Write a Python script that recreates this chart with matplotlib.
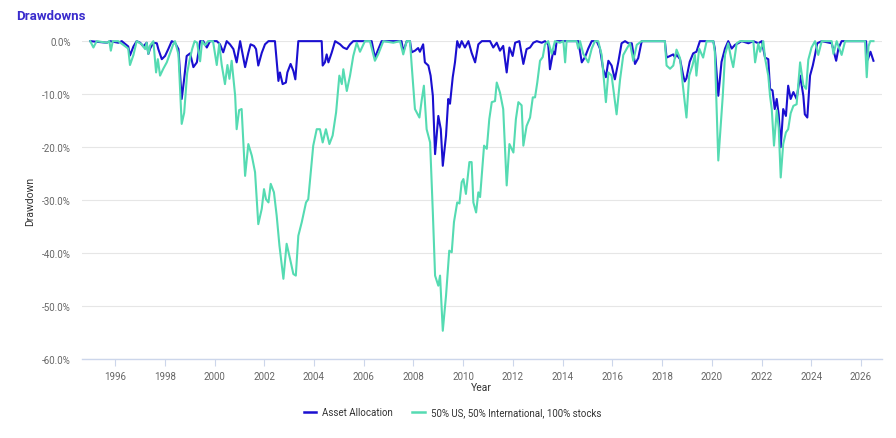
import matplotlib
matplotlib.use("Agg")
import matplotlib.pyplot as plt
from matplotlib.ticker import FuncFormatter
from matplotlib.lines import Line2D

plt.rcParams['font.family'] = ['Roboto', 'DejaVu Sans']

series_names = ["Asset Allocation", "50% US, 50% International, 100% stocks"]

aa_years = [1995.00, 1995.67, 1995.80, 1996.13, 1996.27, 1996.53, 1996.60, 1996.74, 1996.87, 1997.01,
            1997.14, 1997.27, 1997.34, 1997.41, 1997.54, 1997.68, 1997.74, 1997.88, 1998.01, 1998.14,
            1998.28, 1998.41, 1998.55, 1998.68, 1998.77, 1998.88, 1999.02, 1999.15, 1999.29, 1999.42,
            1999.55, 1999.69, 1999.82, 2000.09, 2000.22, 2000.35, 2000.49, 2000.62, 2000.76, 2000.89,
            2001.03, 2001.23, 2001.36, 2001.45, 2001.59, 2001.67, 2001.76, 2001.90, 2002.03, 2002.17,
            2002.43, 2002.57, 2002.63, 2002.74, 2002.87, 2002.93, 2003.06, 2003.17, 2003.25, 2003.37,
            2004.31, 2004.35, 2004.44, 2004.51, 2004.58, 2004.71, 2004.85, 2005.05, 2005.18, 2005.32,
            2005.45, 2005.58, 2006.32, 2006.45, 2006.59, 2006.72, 2007.52, 2007.59, 2007.73, 2007.86,
            2007.93, 2008.06, 2008.19, 2008.26, 2008.39, 2008.46, 2008.60, 2008.69, 2008.78, 2008.87,
            2009.00, 2009.10, 2009.18, 2009.31, 2009.40, 2009.47, 2009.58, 2009.67, 2009.76, 2009.85,
            2009.94, 2010.07, 2010.21, 2010.34, 2010.48, 2010.61, 2010.75, 2011.08, 2011.21, 2011.35,
            2011.48, 2011.61, 2011.75, 2011.86, 2011.99, 2012.09, 2012.26, 2012.42, 2012.55, 2012.69,
            2012.82, 2012.96, 2013.16, 2013.29, 2013.42, 2013.49, 2013.62, 2013.69, 2013.76, 2014.63,
            2014.70, 2014.77, 2014.90, 2015.03, 2015.17, 2015.37, 2015.50, 2015.63, 2015.74, 2015.84,
            2015.97, 2016.10, 2016.24, 2016.37, 2016.51, 2016.64, 2016.78, 2016.91, 2017.04, 2017.18,
            2018.11, 2018.18, 2018.32, 2018.45, 2018.52, 2018.58, 2018.72, 2018.85, 2018.91, 2018.98,
            2019.11, 2019.25, 2019.38, 2019.52, 2020.06, 2020.12, 2020.26, 2020.39, 2020.53, 2020.66,
            2020.80, 2020.93, 2021.06, 2021.20, 2021.47, 2021.67, 2021.87, 2022.01, 2022.14, 2022.27,
            2022.34, 2022.44, 2022.53, 2022.61, 2022.69, 2022.77, 2022.87, 2022.98, 2023.07, 2023.17,
            2023.28, 2023.41, 2023.55, 2023.68, 2023.74, 2023.84, 2023.95, 2024.06, 2024.15, 2024.24,
            2024.42, 2024.82, 2025.00, 2025.09, 2025.22, 2026.20, 2026.27, 2026.38, 2026.50]
aa_values = [0.0, -0.3, 0.0, -0.3, 0.0, -1.0, -2.7, -1.0, 0.0, -0.3,
             -1.0, -0.3, -2.4, -1.4, -0.3, -0.4, -1.5, -3.4, -2.8, -1.5,
             0.0, -0.3, -1.5, -10.9, -7.5, -2.8, -2.3, -4.9, -4.0, 0.0,
             0.0, -1.2, 0.0, 0.0, -0.6, -2.1, 0.0, -0.6, -1.5, -4.0,
             0.0, -4.9, -2.2, -0.6, -0.9, -1.5, -4.6, -2.2, -0.6, 0.0,
             0.0, -7.5, -5.9, -8.1, -7.8, -5.9, -4.3, -5.6, -7.2, 0.0,
             0.0, -4.6, -4.0, -2.5, -4.0, -2.2, 0.0, -0.6, -1.2, -1.5,
             -0.6, 0.0, 0.0, -3.1, -1.5, 0.0, 0.0, -2.0, 0.0, 0.0,
             -2.1, -1.8, -1.3, -2.0, -0.6, -4.0, -4.6, -6.5, -10.3, -21.3,
             -14.1, -16.6, -23.5, -17.8, -10.9, -11.8, -6.8, -4.0, 0.0, -1.2,
             0.0, -1.2, 0.0, -2.2, -4.0, -0.6, 0.0, 0.0, -1.2, -0.3,
             -1.8, -0.9, -5.9, -1.2, -2.8, -0.3, 0.0, -4.3, -1.5, -1.2,
             -0.3, 0.0, -0.3, 0.0, -0.6, -5.3, -1.9, -2.5, 0.0, 0.0,
             -2.0, -4.0, -3.0, -1.4, 0.0, 0.0, -1.4, -5.3, -6.8, -3.7,
             -4.6, -7.2, -3.9, -0.4, 0.0, -0.4, -0.4, -4.3, -3.2, 0.0,
             0.0, -3.1, -2.8, -2.5, -3.1, -2.5, -3.4, -6.5, -7.6, -7.0,
             -3.9, -2.3, -2.0, 0.0, 0.0, -1.4, -10.3, -3.9, -1.4, 0.0,
             -1.4, -0.7, -0.4, 0.0, -0.4, 0.0, -0.4, 0.0, -3.1, -3.4,
             -9.0, -9.3, -12.8, -10.9, -13.9, -20.0, -12.8, -14.1, -8.4, -10.9,
             -9.6, -10.9, -6.5, -10.3, -13.8, -14.4, -6.5, -4.6, -2.6, -0.4,
             0.0, -0.4, -3.7, -1.4, 0.0, 0.0, -3.5, -2.0, -3.7]

mix_years = [1995.00, 1995.13, 1995.26, 1995.67, 1995.77, 1995.83, 1995.91, 1996.13, 1996.53, 1996.60,
             1996.74, 1996.87, 1997.07, 1997.21, 1997.27, 1997.34, 1997.41, 1997.54, 1997.65, 1997.72,
             1997.81, 1997.94, 1998.08, 1998.21, 1998.34, 1998.41, 1998.55, 1998.68, 1998.78, 1998.90,
             1999.00, 1999.10, 1999.20, 1999.30, 1999.42, 1999.50, 1999.62, 1999.74, 1999.94, 2000.09,
             2000.19, 2000.29, 2000.42, 2000.52, 2000.60, 2000.69, 2000.83, 2000.89, 2000.99, 2001.09,
             2001.23, 2001.36, 2001.50, 2001.63, 2001.76, 2001.90, 2001.99, 2002.07, 2002.17, 2002.26,
             2002.39, 2002.50, 2002.61, 2002.77, 2002.90, 2003.04, 2003.17, 2003.27, 2003.37, 2003.51,
             2003.68, 2003.77, 2003.87, 2003.97, 2004.11, 2004.24, 2004.35, 2004.48, 2004.62, 2004.75,
             2004.89, 2005.02, 2005.12, 2005.18, 2005.32, 2005.45, 2005.58, 2005.72, 2005.85, 2006.05,
             2006.25, 2006.45, 2006.59, 2006.79, 2007.19, 2007.46, 2007.59, 2007.73, 2007.86, 2007.93,
             2008.06, 2008.24, 2008.33, 2008.42, 2008.53, 2008.67, 2008.78, 2008.87, 2009.00, 2009.07,
             2009.18, 2009.31, 2009.44, 2009.54, 2009.63, 2009.76, 2009.85, 2009.94, 2010.01, 2010.11,
             2010.25, 2010.34, 2010.41, 2010.52, 2010.61, 2010.68, 2010.79, 2010.84, 2010.95, 2011.05,
             2011.15, 2011.28, 2011.35, 2011.48, 2011.61, 2011.75, 2011.86, 2012.02, 2012.12, 2012.22,
             2012.35, 2012.42, 2012.55, 2012.69, 2012.80, 2012.89, 2012.98, 2013.09, 2013.20, 2013.29,
             2013.42, 2013.56, 2013.69, 2013.89, 2014.03, 2014.10, 2014.16, 2014.56, 2014.63, 2014.70,
             2014.83, 2015.03, 2015.17, 2015.30, 2015.43, 2015.57, 2015.74, 2015.84, 2015.97, 2016.17,
             2016.31, 2016.44, 2016.58, 2016.71, 2016.84, 2016.98, 2017.18, 2018.11, 2018.18, 2018.32,
             2018.45, 2018.58, 2018.72, 2018.85, 2018.98, 2019.09, 2019.22, 2019.32, 2019.38, 2019.49,
             2019.65, 2019.79, 2020.06, 2020.12, 2020.26, 2020.44, 2020.53, 2020.66, 2020.77, 2020.86,
             2021.00, 2021.13, 2021.67, 2021.74, 2021.87, 2021.94, 2022.07, 2022.14, 2022.27, 2022.34,
             2022.41, 2022.50, 2022.61, 2022.69, 2022.77, 2022.87, 2022.98, 2023.07, 2023.17, 2023.28,
             2023.41, 2023.55, 2023.68, 2023.79, 2023.88, 2024.01, 2024.15, 2024.28, 2024.42, 2024.82,
             2024.89, 2025.02, 2025.22, 2025.36, 2026.16, 2026.23, 2026.30, 2026.37, 2026.50]
mix_values = [0.0, -1.2, 0.0, -0.3, 0.0, -1.8, 0.0, 0.0, -1.4, -4.5,
              -2.6, 0.0, -0.6, -1.5, -0.3, -2.4, -0.8, 0.0, -5.9, -3.4,
              -6.5, -5.2, -4.0, -2.3, -0.6, 0.0, -2.5, -15.6, -13.5, -6.0,
              -3.5, -1.5, 0.0, -0.3, -3.8, 0.0, -0.8, 0.0, 0.0, -4.5,
              -0.5, -4.5, -8.1, -4.5, -7.1, -3.7, -10.3, -16.6, -13.0, -12.8,
              -25.4, -19.4, -21.6, -24.7, -34.5, -31.6, -27.9, -29.8, -30.4, -26.9,
              -28.5, -32.9, -38.5, -44.8, -38.2, -41.1, -43.9, -44.2, -36.7, -34.1,
              -30.4, -29.8, -24.7, -19.7, -16.6, -16.6, -19.1, -16.6, -19.4, -17.8,
              -13.4, -6.5, -8.1, -5.3, -9.4, -6.5, -2.8, -0.3, -2.0, 0.0,
              0.0, -3.7, -2.4, 0.0, -0.3, 0.0, -2.5, 0.0, 0.0, -4.6,
              -12.8, -14.4, -11.2, -8.4, -16.6, -19.1, -32.3, -44.2, -46.1, -44.2,
              -54.6, -48.0, -39.5, -39.8, -34.1, -30.4, -30.6, -26.6, -26.0, -28.8,
              -22.8, -22.8, -30.4, -32.3, -28.5, -29.4, -22.8, -19.7, -20.3, -14.7,
              -11.5, -11.3, -7.8, -9.7, -12.8, -27.2, -19.4, -21.0, -14.7, -11.5,
              -12.1, -19.7, -16.0, -14.4, -10.6, -10.6, -7.8, -3.7, -3.0, -0.6,
              0.0, -2.4, 0.0, -0.3, 0.0, -4.0, 0.0, 0.0, -1.4, 0.0,
              -2.4, -4.0, -1.4, 0.0, 0.0, -2.6, -11.5, -5.9, -6.5, -13.8,
              -7.2, -2.6, -1.4, -0.4, -3.7, -0.7, 0.0, 0.0, -4.6, -5.2,
              -4.6, -1.6, -3.2, -9.0, -14.4, -6.5, -4.6, -2.6, -6.5, -1.4,
              -3.1, 0.0, 0.0, -2.0, -22.5, -10.3, -2.6, -0.4, -3.1, -4.9,
              -0.4, 0.0, 0.0, -4.0, -0.4, -2.0, 0.0, -3.2, -6.5, -10.3,
              -12.8, -19.7, -13.0, -16.4, -25.7, -19.4, -17.2, -16.6, -13.6, -12.2,
              -11.9, -4.0, -8.3, -9.0, -3.5, -1.2, 0.0, -2.6, 0.0, 0.0,
              -2.4, 0.0, -2.6, 0.0, 0.0, -6.8, -1.0, 0.0, 0.0]

x_ticks = list(range(1996, 2027, 2))
y_ticks = [0, -10, -20, -30, -40, -50, -60]

blue = "#1a0fd0"
green = "#55dbb2"

fig = plt.figure(figsize=(8.96, 4.39), dpi=100)
ax = fig.add_axes([0.0915, 0.179, 0.8925, 0.725])

ax.plot(aa_years, aa_values, color=blue, lw=1.5, clip_on=False, zorder=3, solid_joinstyle='round')
ax.plot(mix_years, mix_values, color=green, lw=1.5, clip_on=False, zorder=4, solid_joinstyle='round')

ax.set_xlim(1994.67, 2026.83)
ax.set_ylim(-60, 0)
ax.set_xticks(x_ticks)
ax.set_xticklabels([str(t) for t in x_ticks])
ax.set_yticks(y_ticks)
ax.yaxis.set_major_formatter(FuncFormatter(lambda v, p: f"{v:.1f}%" if v != 0 else "0.0%"))

for s in ["top", "right", "left"]:
    ax.spines[s].set_visible(False)
ax.spines["bottom"].set_color("#ccd6eb")
ax.spines["bottom"].set_linewidth(1.0)
ax.grid(axis="y", color="#e6e6e6", lw=0.8)
ax.set_axisbelow(True)
ax.tick_params(axis="y", length=0, labelsize=7, labelcolor="#666666", pad=8)
ax.tick_params(axis="x", length=5, width=0.8, color="#ccd6eb", labelsize=7, labelcolor="#666666", pad=3)

ax.set_xlabel("Year", fontsize=7.5, color="#333333", labelpad=1)
ax.set_ylabel("Drawdown", fontsize=7.5, color="#333333", labelpad=5)

fig.text(0.018, 0.962, "Drawdowns", fontsize=9.5, color="#3a2ccd", fontweight="bold", va="center", ha="left")

handles = [Line2D([0], [0], color=blue, lw=1.8), Line2D([0], [0], color=green, lw=1.8)]
fig.legend(handles, series_names, loc="center", bbox_to_anchor=(0.505, 0.059), ncol=2, frameon=False,
           fontsize=7, handlelength=1.3, handletextpad=0.6, columnspacing=2.0, labelcolor="#333333")

fig.savefig("out.png", dpi=100)
